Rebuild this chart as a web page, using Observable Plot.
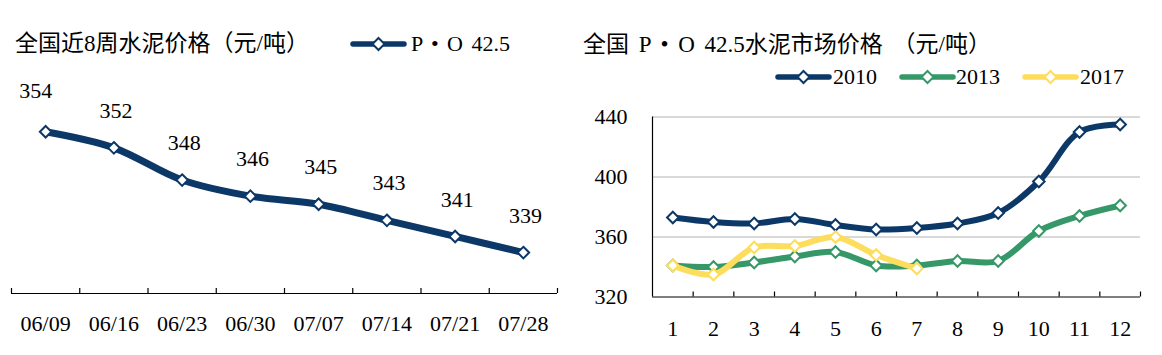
<!DOCTYPE html>
<html><head><meta charset="utf-8">
<script src="https://cdn.jsdelivr.net/npm/d3@7"></script>
<script src="https://cdn.jsdelivr.net/npm/@observablehq/plot@0.6"></script>
<style>
body{margin:0;background:#fff;}
#wrap{position:relative;width:1162px;height:355px;overflow:hidden;font-family:"Liberation Serif","Noto Sans CJK SC",serif;color:#000;}
.abs{position:absolute;white-space:nowrap;font-size:22px;line-height:22px;}
.title{font-size:23px;line-height:23px;word-spacing:4px;}
.ser{word-spacing:3px;}
.chart{position:absolute;}
</style></head><body><div id="wrap"></div>
<script>
// ---- data ----
const weeks = ["06/09","06/16","06/23","06/30","07/07","07/14","07/21","07/28"];
const weekPrice = [354,352,348,346,345,343,341,339];
const months = [1,2,3,4,5,6,7,8,9,10,11,12];
const years = ["2010","2013","2017"];
const price2010 = [373,370,369,372,368,365,366,369,376,397,430,435];
const price2013 = [341,340,343,347,350,341,341,344,344,364,374,381];
const price2017 = [341,335,353,354,360,348,339];
const rightTicks = [320,360,400,440];
const leftTitle = "全国近8周水泥价格（元/吨）";
const leftSeries = "P • O 42.5";
const rightTitle = "全国 P • O 42.5水泥市场价格 （元/吨）";

const navy = "#0c3868", green = "#369868", yellow = "#fddd5c";
const colors = [navy, green, yellow];
const font = '"Liberation Serif","Noto Sans CJK SC",serif';
const wrap = document.getElementById("wrap");

function addDiv(html, left, top, cls){
  const d = document.createElement("div");
  d.className = "abs" + (cls ? " " + cls : ""); d.style.left = left+"px"; d.style.top = top+"px";
  d.innerHTML = html; wrap.appendChild(d); return d;
}
function swatch(color){
  return `<svg width="57" height="16" style="display:block"><line x1="3" x2="54" y1="8" y2="8" stroke="${color}" stroke-width="5.5" stroke-linecap="round"/><path d="M28.5,2 L34.5,8 L28.5,14 L22.5,8Z" fill="#fff" stroke="${color}" stroke-width="2"/></svg>`;
}

// titles & legends
addDiv(leftTitle, 15, 32, "title");
addDiv(swatch(navy), 350, 36);
addDiv(leftSeries, 411, 33, "ser");
addDiv(rightTitle, 583, 33, "title");
const legX = [[775,833],[899,956],[1022,1080]];
years.forEach((y,i)=>{ addDiv(swatch(colors[i]), legX[i][0], 69); addDiv(y, legX[i][1], 66); });

// ---- left chart ----
const leftData = weeks.map((w,i)=>({i:i+1, week:w, price:weekPrice[i]}));
const leftIdx = leftData.map(d=>d.i);
const leftBounds = [0.5, ...leftIdx.map(i=>i+0.5)];
const yMinL = 333.92;
const left = Plot.plot({
  width:560, height:295, marginLeft:11, marginRight:3, marginTop:39, marginBottom:62,
  style:{fontFamily:font, fontSize:"22px", background:"transparent", color:"#000", overflow:"visible"},
  x:{domain:[0.5,8.5], label:null},
  y:{domain:[yMinL,358], axis:null, label:null},
  marks:[
    Plot.ruleY([yMinL], {stroke:"#000", strokeWidth:1.2}),
    Plot.axisX(leftBounds, {tickSize:5, dy:-5, tickFormat:()=>"", strokeWidth:1.2}),
    Plot.axisX(leftIdx, {tickSize:0, tickPadding:22, fontSize:22, tickFormat:i=>weeks[i-1]}),
    Plot.line(leftData, {x:"i", y:"price", stroke:navy, strokeWidth:7, curve:"catmull-rom"}),
    Plot.dot(leftData, {x:"i", y:"price", symbol:"diamond2", r:5.2, fill:"#fff", stroke:navy, strokeWidth:2}),
    Plot.text(leftData.slice(0,1), {x:"i", y:"price", text:"price", dy:-41, dx:-10, fontSize:22}),
    Plot.text(leftData.slice(1), {x:"i", y:"price", text:"price", dy:-37, dx:2, fontSize:22})
  ]
});
left.classList.add("chart"); left.style.left="0px"; left.style.top="60px";
wrap.appendChild(left);

// ---- right chart ----
const series = [price2010, price2013, price2017];
const rightData = years.map((y,k)=>series[k].map((p,j)=>({m:months[j], year:y, price:p})));
const rightBounds = months.map(m=>m+0.5);
const rightMarks = [
  Plot.gridY(rightTicks.slice(1), {stroke:"#b3b3b3", strokeOpacity:1, strokeWidth:1.2}),
  Plot.ruleY([rightTicks[0]], {stroke:"#000", strokeWidth:1.2}),
  Plot.ruleX([0.5], {stroke:"#000", strokeWidth:1.2}),
  Plot.axisX(rightBounds, {tickSize:5, dy:-5, tickFormat:()=>"", strokeWidth:1.2}),
  Plot.axisX(months, {tickSize:0, tickPadding:23, fontSize:22}),
  Plot.axisY(rightTicks, {tickSize:0, tickPadding:25, fontSize:22})
];
rightData.forEach((rows,k)=>{
  rightMarks.push(Plot.line(rows, {x:"m", y:"price", stroke:colors[k], strokeWidth:6, curve:"catmull-rom"}));
  rightMarks.push(Plot.dot(rows, {x:"m", y:"price", symbol:"diamond2", r:5.2, fill:"#fff", stroke:colors[k], strokeWidth:2}));
});
const right = Plot.plot({
  width:582, height:260, marginLeft:72, marginRight:22, marginTop:21.5, marginBottom:58.5,
  style:{fontFamily:font, fontSize:"22px", background:"transparent", color:"#000", overflow:"visible"},
  x:{domain:[0.5,12.5], label:null},
  y:{domain:[320,440], label:null},
  marks: rightMarks
});
right.classList.add("chart"); right.style.left="580px"; right.style.top="95px";
wrap.appendChild(right);
</script>
</body></html>
